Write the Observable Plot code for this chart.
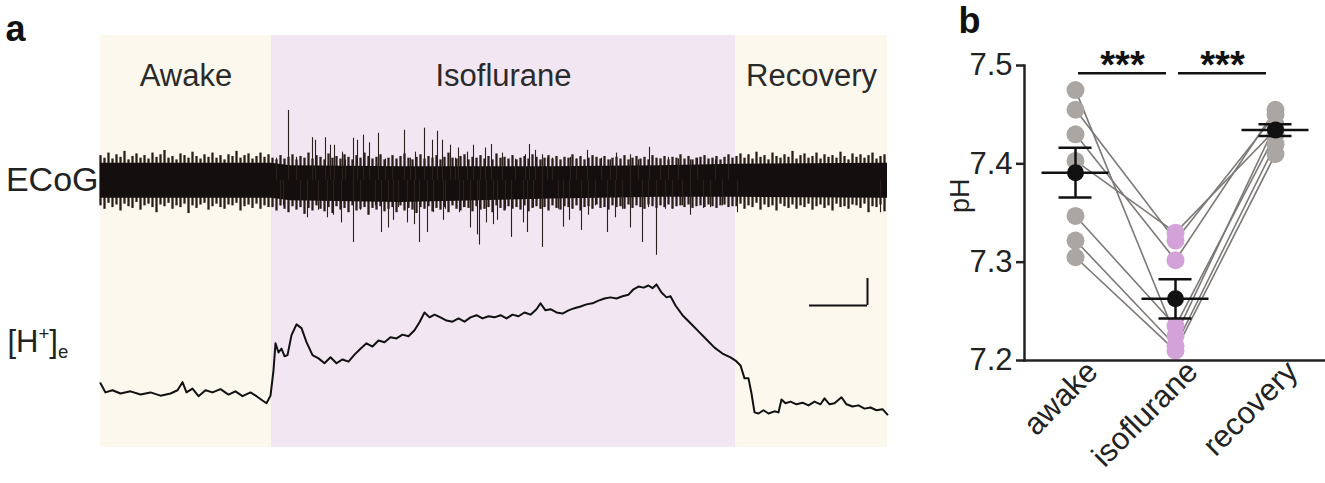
<!DOCTYPE html>
<html><head><meta charset="utf-8">
<script src="https://cdn.jsdelivr.net/npm/d3@7"></script>
<script src="https://cdn.jsdelivr.net/npm/@observablehq/plot@0.6"></script>
<style>
html,body{margin:0;padding:0;background:#fff;}
#fig{position:relative;width:1325px;height:483px;overflow:hidden;font-family:"Liberation Sans",Arial,sans-serif;}
#fig svg{position:absolute;overflow:visible;}
</style></head><body><div id="fig"></div>
<script>
// ---------- Panel a data ----------
const phases = ["Awake", "Isoflurane", "Recovery"];
const phaseStart = [0, 171, 635];
const phaseEnd = [171, 635, 787];

// ECoG core envelope (arbitrary units)
const ecogBandT  = [0, 171, 190, 300, 450, 560, 635, 787];
const ecogBandHi = [1.0, 1.0, 0.85, 0.8, 0.8, 0.85, 0.95, 1.0];
const ecogBandLo = [-1.05, -1.05, -1.2, -1.3, -1.1, -1.0, -1.0, -1.05];

// ECoG background activity: per-sample max / min (one sample every 4 time units)
const fuzzStep = 4;
const awakeFuzzStart = 0;
const awakeFuzzMax = [1.45,1.3,1.6,1.25,1.5,1.35,1.7,1.2,1.4,1.55,1.3,1.45,1.25,1.6,1.35,1.5,1.75,1.3,1.4,1.2,1.55,1.45,1.3,1.65,1.4,1.25,1.5,1.35,1.6,1.3,1.45,1.2,1.5,1.4,1.7,1.3,1.45,1.55,1.25,1.4,1.6,1.35,1.5];
const awakeFuzzMin = [-1.5,-1.7,-1.35,-1.6,-1.45,-1.8,-1.4,-1.55,-1.65,-1.3,-1.75,-1.5,-1.4,-1.6,-1.9,-1.45,-1.55,-1.35,-1.7,-1.5,-1.6,-1.4,-1.95,-1.5,-1.65,-1.45,-1.35,-1.75,-1.55,-1.4,-1.6,-1.7,-1.45,-1.5,-1.35,-1.8,-1.55,-1.45,-1.65,-1.4,-1.7,-1.5,-1.6];
const isoFuzzStart = 172;
const isoFuzzMax = [1.3,1.2,1.45,1.25,1.35,1.5,1.2,1.4,1.3,1.6,1.25,1.45,1.35,1.2,1.55,1.3,1.4,1.25,1.5,1.35,1.2,1.45,1.3,1.6,1.4,1.25,1.35,1.5,1.2,1.3,1.45,1.25,1.4,1.55,1.3,1.2,1.35,1.5,1.25,1.4,1.3,1.45,1.2,1.35,1.6,1.3,1.25,1.4,1.5,1.2,1.35,1.3,1.45,1.25,1.4,1.2,1.55,1.3,1.35,1.25,1.45,1.2,1.3,1.4,1.25,1.5,1.35,1.2,1.3,1.45,1.25,1.4,1.2,1.35,1.3,1.5,1.25,1.4,1.2,1.3,1.45,1.35,1.25,1.4,1.2,1.3,1.35,1.25,1.45,1.2,1.3,1.4,1.25,1.35,1.2,1.45,1.3,1.25,1.4,1.2,1.35,1.3,1.5,1.25,1.4,1.2,1.3,1.35,1.45,1.25,1.3,1.4,1.2,1.35,1.5,1.3];
const isoFuzzMin = [-1.6,-1.8,-1.5,-1.7,-1.9,-1.55,-1.75,-1.6,-2.0,-1.65,-1.8,-1.5,-1.7,-1.85,-1.6,-1.95,-1.55,-1.75,-1.65,-1.9,-1.5,-1.8,-1.7,-1.6,-2.05,-1.65,-1.75,-1.55,-1.85,-1.7,-1.6,-1.9,-1.5,-1.8,-1.65,-1.75,-1.95,-1.6,-1.7,-1.55,-1.85,-1.65,-1.75,-1.6,-1.9,-1.5,-1.7,-1.8,-1.6,-1.65,-1.85,-1.55,-1.75,-1.7,-1.6,-1.9,-1.5,-1.65,-1.8,-1.55,-1.7,-1.6,-1.75,-1.5,-1.85,-1.65,-1.55,-1.7,-1.6,-1.8,-1.5,-1.65,-1.75,-1.55,-1.6,-1.7,-1.5,-1.8,-1.6,-1.55,-1.7,-1.45,-1.65,-1.6,-1.75,-1.5,-1.6,-1.55,-1.7,-1.45,-1.65,-1.5,-1.6,-1.7,-1.45,-1.55,-1.65,-1.5,-1.6,-1.45,-1.7,-1.55,-1.5,-1.6,-1.45,-1.65,-1.55,-1.5,-1.6,-1.45,-1.55,-1.65,-1.5,-1.45,-1.6,-1.55];
const recFuzzStart = 636;
const recFuzzMax = [1.4,1.55,1.3,1.5,1.25,1.65,1.35,1.45,1.2,1.6,1.4,1.3,1.5,1.35,1.7,1.25,1.45,1.55,1.3,1.4,1.6,1.25,1.5,1.35,1.45,1.3,1.65,1.4,1.2,1.55,1.35,1.5,1.3,1.45,1.6,1.25,1.4,1.5];
const recFuzzMin = [-1.55,-1.4,-1.7,-1.5,-1.6,-1.35,-1.75,-1.45,-1.6,-1.5,-1.8,-1.4,-1.55,-1.65,-1.45,-1.7,-1.5,-1.6,-1.4,-1.75,-1.55,-1.45,-1.65,-1.5,-1.8,-1.4,-1.6,-1.55,-1.7,-1.45,-1.5,-1.65,-1.4,-1.9,-1.55,-1.6,-1.45,-1.85];

// ECoG discharges during isoflurane (time, amplitude)
const ecogSpikeT = [176,180,183,188,196,200,207,212,215,218,225,227,230,233,234,241,242,245,253,253,257,260,263,269,275,278,281,285,288,292,293,298,304,307,310,314,315,319,324,327,332,333,337,342,343,345,350,355,358,359,363,367,370,373,377,379,380,385,386,391,393,397,402,405,411,415,423,425,427,429,433,435,442,442,447,452,458,463,469,470,476,481,487,488,495,501,507,510,515,516,522,530,530,538,542,548,549,556,560,565,568,572,578,582,590,590,597,603,610,615,622,628,637,780];
const ecogSpikeA = [1.3,-1.5,-1.5,4.1,1.35,-1.6,-2.2,2.5,2.35,-1.76,2.5,-2.2,2.06,-2.05,2.06,-2.5,1.65,1.2,2.47,-3.65,2.35,-1.76,2.65,2.2,-1.5,2.76,-3.06,1.25,-2.8,1.2,-2.35,-1.6,2.94,-2.5,1.3,-2.6,1.65,-3.65,3.06,-3.06,2.35,-1.9,2.88,2.35,-2.35,-1.7,2.06,1.3,1.9,-1.9,-1.6,1.65,-2.8,2.06,-3.2,-3.8,1.3,1.9,-2.5,2.1,-2.6,-2.35,1.6,-1.7,-3.35,1.25,-2.5,1.5,-3.06,2.1,-1.6,1.76,1.5,-3.94,1.3,1.3,-1.7,-2.75,-2.35,1.35,1.25,-2.94,1.76,-2.05,-1.5,1.3,-3.06,1.2,-2.2,1.6,-1.7,1.5,-2.8,1.2,-3.65,-1.6,1.94,-4.4,1.25,-1.7,1.35,-1.65,1.25,-1.5,1.2,-2.05,1.3,-1.65,-1.6,1.2,-1.5,1.3,-1.9,-1.9];

// Extracellular [H+] trace (time, nM)
const hT = [0,5,12,20,30,40,50,60,70,77,82,86,92,98,105,112,120,128,135,142,150,156,162,166,170,173,175,178,181,184,187,191,196,201,206,212,218,224,230,236,242,248,254,260,266,272,278,284,290,296,302,308,314,319,324,329,334,340,346,352,358,364,370,376,382,388,394,400,406,412,418,424,430,436,440,445,450,456,462,468,474,480,486,492,498,504,510,516,522,528,533,538,543,548,552,556,561,566,570,575,582,590,598,606,614,622,630,635,640,644,648,651,654,658,663,668,674,678,681,685,690,696,702,708,714,720,724,729,734,741,746,752,758,764,770,776,782,787];
const hC = [41.7,40,40.4,39.8,40.2,39.6,40,39.4,39.8,40.4,41.9,40,40.7,39.3,40.4,40,40.6,39.6,40.2,39.3,40,39.3,38.5,38,39.4,44.1,49.1,47.4,48.1,46.7,46.9,50.6,52.6,51.9,49.3,46.9,46.3,45.4,46.5,45.4,46.1,45.7,47,48.1,49.1,48.5,49.6,49.3,50.2,50,50.7,50.4,51.5,53,54.8,53.9,54.4,53.9,53.3,53.1,53.7,53.1,53.9,54.3,53.7,54.1,53.9,54.3,53.7,54.4,54.1,54.8,54.4,55.4,56.5,55.2,55.4,54.8,54.6,55.2,55.6,55.9,56.3,56.5,57,57.4,57.6,57.4,57.8,58.1,59.1,59.6,59.4,59.8,59.3,60,58.5,57.6,57.8,56.1,54.3,52.8,51.3,49.8,48.3,47.2,46.5,45.9,45,42.6,42.6,39.8,36.3,36.1,36.7,36.1,36.5,36.3,38.7,38,38.3,37.8,38.1,37.6,38.3,37.8,38.9,37.8,38,39.1,37.8,37.4,37.6,37,37.2,36.7,36.9,35.9];

// scale bar (time units, nM)
const barTime = 58, barConc = 5, barEnd = 767, barBase = 56.1;

// ---------- Panel b data ----------
const conditions = ["awake", "isoflurane", "recovery"];
const phAwake    = [7.475, 7.455, 7.430, 7.403, 7.347, 7.322, 7.305];
const phIso      = [7.225, 7.322, 7.302, 7.330, 7.235, 7.215, 7.210];
const phRecovery = [7.440, 7.450, 7.455, 7.435, 7.430, 7.420, 7.410];
const sigPairs = [{from: "awake", to: "isoflurane", label: "***"}, {from: "isoflurane", to: "recovery", label: "***"}];
const sigLevel = 7.492;
const yTicks = [7.2, 7.3, 7.4, 7.5];

// ---------- build ----------
const FONT = '"Liberation Sans", Arial, Helvetica, sans-serif';
const fig = document.getElementById("fig");
const bg = phases.map((p, i) => ({phase: p, t1: phaseStart[i], t2: phaseEnd[i]}));
const phaseColor = {domain: phases, range: ["#fcf8ee", "#f1e6f2", "#fcf8ee"]};
const band = ecogBandT.map((t, i) => ({t, hi: ecogBandHi[i], lo: ecogBandLo[i]}));
const spikes = ecogSpikeT.map((t, i) => ({t, a: ecogSpikeA[i]}));
const fuzz = [];
[[awakeFuzzStart, awakeFuzzMax, awakeFuzzMin], [isoFuzzStart, isoFuzzMax, isoFuzzMin], [recFuzzStart, recFuzzMax, recFuzzMin]]
  .forEach(([s, mx, mn]) => mx.forEach((v, i) => { if (mn[i] !== undefined) fuzz.push({t: s + i * fuzzStep, hi: v, lo: mn[i]}); }));
const hplus = hT.map((t, i) => ({t, c: hC[i]}));

const ecogPlot = Plot.plot({
  width: 900, height: 265, marginLeft: 100, marginRight: 13, marginTop: 35, marginBottom: 0,
  x: {domain: [0, 787], axis: null},
  y: {domain: [-5, 8.5], axis: null},
  color: phaseColor,
  style: {background: "transparent", fontFamily: FONT},
  marks: [
    Plot.rect(bg, {x1: "t1", x2: "t2", fill: "phase"}),
    Plot.text(bg, {x: d => (d.t1 + d.t2) / 2, text: "phase", frameAnchor: "top", dy: 28, fontSize: 31, fill: "#2a2a2a"}),
    Plot.ruleX(fuzz, {x: "t", y1: "lo", y2: "hi", stroke: "#2a1e1b", strokeWidth: 2.3}),
    Plot.areaY(band, {x: "t", y1: "lo", y2: "hi", fill: "#140f0e"}),
    Plot.ruleX(spikes, {x: "t", y1: 0, y2: "a", stroke: "#2b1f1b", strokeWidth: 1.1}),
    Plot.text(["ECoG"], {y: 0, frameAnchor: "left", textAnchor: "end", dx: -2, fontSize: 34, fill: "#222"}),
    Plot.text(["a"], {frameAnchor: "top-left", textAnchor: "start", lineAnchor: "bottom", dx: -95, dy: 5, fontSize: 36, fontWeight: "bold", fill: "#111"})
  ]
});
ecogPlot.style.left = "0px"; ecogPlot.style.top = "0px";
fig.appendChild(ecogPlot);

const hPlot = Plot.plot({
  width: 900, height: 218, marginLeft: 100, marginRight: 13, marginTop: 0, marginBottom: 36,
  x: {domain: [0, 787], axis: null},
  y: {domain: [29.8, 63.5], axis: null},
  color: phaseColor,
  style: {background: "transparent", fontFamily: FONT},
  marks: [
    Plot.rect(bg, {x1: "t1", x2: "t2", fill: "phase"}),
    Plot.line(hplus, {x: "t", y: "c", stroke: "#111", strokeWidth: 2}),
    Plot.ruleY([barBase], {x1: barEnd - barTime, x2: barEnd, stroke: "#111", strokeWidth: 2}),
    Plot.ruleX([barEnd], {y1: barBase, y2: barBase + barConc, stroke: "#111", strokeWidth: 2}),
    Plot.text(["[H+]e"], {frameAnchor: "top-left", textAnchor: "start", lineAnchor: "bottom", dx: -93, dy: 86, fontSize: 31, fill: "#222"})
  ]
});
hPlot.style.left = "0px"; hPlot.style.top = "265px";
fig.appendChild(hPlot);
d3.select(hPlot).selectAll("text").each(function () {
  if (this.textContent === "[H+]e") {
    const t = d3.select(this);
    t.text("");
    t.append("tspan").text("[H");
    t.append("tspan").attr("font-size", "60%").attr("dy", -12).text("+");
    t.append("tspan").attr("dy", 12).text("]");
    t.append("tspan").attr("font-size", "60%").attr("dy", 6).text("e");
  }
});

const long = [];
phAwake.forEach((v, i) => {
  long.push({subject: i, cond: "awake", ph: phAwake[i]});
  long.push({subject: i, cond: "isoflurane", ph: phIso[i]});
  long.push({subject: i, cond: "recovery", ph: phRecovery[i]});
});
const stats = conditions.map(c => {
  const v = long.filter(d => d.cond === c).map(d => d.ph);
  const m = d3.mean(v), se = d3.deviation(v) / Math.sqrt(v.length);
  return {cond: c, m, lo: m - se, hi: m + se};
});

const panelB = Plot.plot({
  width: 425, height: 483, marginLeft: 124, marginRight: 0, marginTop: 65, marginBottom: 123,
  x: {type: "point", domain: conditions, padding: 0.5},
  y: {domain: [7.2, 7.5]},
  style: {background: "transparent", fontFamily: FONT, color: "#222"},
  marks: [
    Plot.line(long, {x: "cond", y: "ph", z: "subject", stroke: "#7d7977", strokeWidth: 1.6}),
    Plot.dot(long.filter(d => d.cond !== "isoflurane"), {x: "cond", y: "ph", r: 9, fill: "#aba6a2"}),
    Plot.dot(long.filter(d => d.cond === "isoflurane"), {x: "cond", y: "ph", r: 9, fill: "#d3a2d8"}),
    Plot.ruleX(stats, {x: "cond", y1: "lo", y2: "hi", stroke: "#111", strokeWidth: 2.5}),
    Plot.ruleY(stats, {x1: "cond", x2: "cond", y: "lo", insetLeft: -16.5, insetRight: -16.5, stroke: "#111", strokeWidth: 2.5}),
    Plot.ruleY(stats, {x1: "cond", x2: "cond", y: "hi", insetLeft: -16.5, insetRight: -16.5, stroke: "#111", strokeWidth: 2.5}),
    Plot.ruleY(stats, {x1: "cond", x2: "cond", y: "m", insetLeft: -33.5, insetRight: -33.5, stroke: "#111", strokeWidth: 2.5}),
    Plot.dot(stats, {x: "cond", y: "m", r: 8.5, fill: "#111"}),
    Plot.ruleY(sigPairs, {x1: "from", x2: "to", y: sigLevel, insetLeft: 3, insetRight: 9, stroke: "#111", strokeWidth: 2.5}),
    Plot.text(sigPairs, {x: "from", y: sigLevel, dx: 47, dy: 5, text: "label", lineAnchor: "bottom", fontSize: 38, fontWeight: "bold", fill: "#111"}),
    Plot.axisY({ticks: yTicks, tickFormat: ".1f", tickSize: 8, tickPadding: 4, fontSize: 31, strokeWidth: 2.5, label: null}),
    Plot.axisX({tickSize: 0, tickRotate: -45, fontSize: 31, tickPadding: 6, dx: 17, label: null}),
    Plot.frame({anchor: "left", stroke: "#222", strokeWidth: 2.5}),
    Plot.frame({anchor: "bottom", stroke: "#222", strokeWidth: 2.5}),
    Plot.text(["pH"], {frameAnchor: "left", rotate: -90, dx: -64, fontSize: 27, fill: "#222"}),
    Plot.text(["b"], {frameAnchor: "top-left", textAnchor: "start", lineAnchor: "bottom", dx: -66, dy: -33, fontSize: 36, fontWeight: "bold", fill: "#111"})
  ]
});
panelB.style.left = "900px"; panelB.style.top = "0px";
fig.appendChild(panelB);
</script></body></html>
